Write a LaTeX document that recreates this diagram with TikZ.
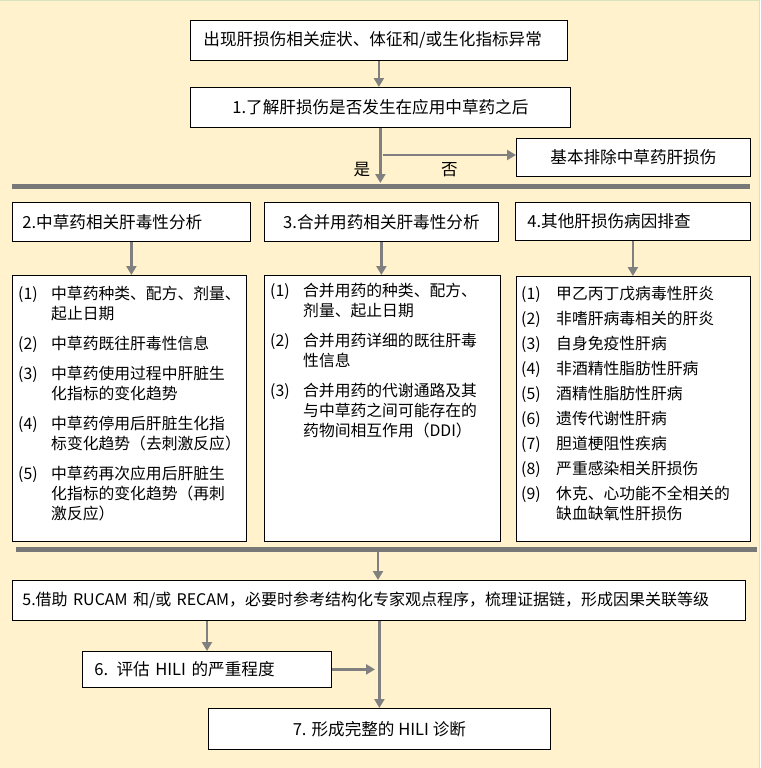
\documentclass[tikz,border=0pt]{standalone}
\usepackage{fontspec}
\setmainfont{Noto Sans CJK SC}
\usetikzlibrary{arrows.meta,positioning,calc}
\definecolor{cream}{HTML}{FFF2CC}
\definecolor{edge}{HTML}{D7E4BD}
\definecolor{flow}{HTML}{808080}
\definecolor{barclr}{HTML}{787878}
\newcommand{\hfnt}{\fontsize{16.6}{20}\selectfont}
\newcommand{\dfnt}{\fontsize{15.8}{20}\selectfont}

\begin{document}
\begin{tikzpicture}[x=1pt,y=-1pt,
  box/.style={draw,fill=white,line width=.8pt,anchor=north west,inner ysep=0pt,font=\hfnt},
  flowarr/.style={-{Triangle[length=9pt,width=10pt]},flow,line width=2.6pt},
  sepbar/.style={barclr,line width=5pt},
  lst/.style={anchor=north west,inner sep=0pt,font=\dfnt}]
\useasboundingbox (0,0) rectangle (760,768);
\fill[cream] (0,0) rectangle (760,768);
\draw[edge,line width=1.5pt] (0,.75)--(760,.75);
\draw[edge,line width=1pt] (759.5,0)--(759.5,768);

\node[box,text width=351pt,inner xsep=13pt,align=left,minimum height=40pt] (sym) at (190,20) {出现肝损伤相关症状、体征和/或生化指标异常};
\node[box,minimum width=380pt,minimum height=40pt] (q1) at (190,87) {1.了解肝损伤是否发生在应用中草药之后};
\node[box,minimum width=234pt,minimum height=38pt] (excl) at (516,138) {基本排除中草药肝损伤};
\node[font=\hfnt] (yeslbl) at (362,170) {是};
\coordinate (yes) at (380,183);
\coordinate (no) at (383,155);
\draw[flowarr] (sym.south)--(sym.south |- q1.north);
\draw[flowarr] (q1.south)--(q1.south |- yes);
\draw[flowarr] (no)--(excl.west |- no) node[pos=.5,below=3pt,font=\hfnt,text=black] (nolbl) {否};
\coordinate (b1w) at (12,186);
\coordinate (b1e) at (750,186);
\draw[sepbar] (b1w)--(b1e);

\node[box,text width=218pt,inner xsep=10pt,align=left,minimum height=39pt] (h2) at (12,202) {2.中草药相关肝毒性分析};
\node[box,minimum width=234pt,minimum height=39pt] (h3) at (264,202) {3.合并用药相关肝毒性分析};
\node[box,text width=211pt,inner xsep=12pt,align=left,minimum height=38pt] (h4) at (515,202) {4.其他肝损伤病因排查};
\node[box,minimum width=234pt,minimum height=266pt] (d2) at (12,275) {};
\node[box,minimum width=236pt,minimum height=266pt] (d3) at (264,275) {};
\node[box,minimum width=234pt,minimum height=265pt] (d4) at (516,276) {};
\foreach \c in {2,3,4}{\draw[flowarr] (h\c.south)--(h\c.south |- d\c.north);}

\node[lst] (l2) at ($(d2.north west)+(6,10)$) {\begin{tabular}{@{}p{33pt}@{}l@{}}
(1) & 中草药种类、配方、剂量、\\ & 起止日期\\[10pt]
(2) & 中草药既往肝毒性信息\\[10pt]
(3) & 中草药使用过程中肝脏生\\ & 化指标的变化趋势\\[10pt]
(4) & 中草药停用后肝脏生化指\\ & 标变化趋势（去刺激反应）\\[10pt]
(5) & 中草药再次应用后肝脏生\\ & 化指标的变化趋势（再刺\\ & 激反应）
\end{tabular}};
\node[lst] (l3) at ($(d3.north west)+(6,7)$) {\begin{tabular}{@{}p{33pt}@{}l@{}}
(1) & 合并用药的种类、配方、\\ & 剂量、起止日期\\[10pt]
(2) & 合并用药详细的既往肝毒\\ & 性信息\\[10pt]
(3) & 合并用药的代谢通路及其\\ & 与中草药之间可能存在的\\ & 药物间相互作用（DDI）
\end{tabular}};
\node[lst] (l4) at ($(d4.north west)+(5,9)$) {\begin{tabular}{@{}p{35pt}@{}l@{}}
(1) & 甲乙丙丁戊病毒性肝炎\\[5pt]
(2) & 非嗜肝病毒相关的肝炎\\[5pt]
(3) & 自身免疫性肝病\\[5pt]
(4) & 非酒精性脂肪性肝病\\[5pt]
(5) & 酒精性脂肪性肝病\\[5pt]
(6) & 遗传代谢性肝病\\[5pt]
(7) & 胆道梗阻性疾病\\[5pt]
(8) & 严重感染相关肝损伤\\[5pt]
(9) & 休克、心功能不全相关的\\ & 缺血缺氧性肝损伤
\end{tabular}};

\coordinate (b2w) at (16,549);
\coordinate (b2e) at (757,549);
\draw[sepbar] (b2w)--(b2e);
\coordinate (b2m) at (378,552);
\node[box,text width=713pt,inner xsep=10pt,align=left,minimum height=40pt,font=\fontsize{16}{20}\selectfont] (s5) at (12,580) {5.借助 RUCAM 和/或 RECAM，必要时参考结构化专家观点程序，梳理证据链，形成因果关联等级};
\node[box,text width=225pt,inner xsep=12pt,align=left,minimum height=36pt] (s6) at (82,651) {6. 评估 HILI 的严重程度};
\node[box,minimum width=342pt,minimum height=41pt] (s7) at (208,708) {7. 形成完整的 HILI 诊断};
\coordinate (c6) at (207,0);
\coordinate (join) at (375,0);
\draw[flowarr] (b2m)--(b2m |- s5.north);
\draw[flowarr] (c6 |- s5.south)--(c6 |- s6.north);
\draw[flowarr] (s6.east)--(join |- s6.east);
\draw[flowarr] (s7.north |- s5.south)--(s7.north);
\end{tikzpicture}
\end{document}
